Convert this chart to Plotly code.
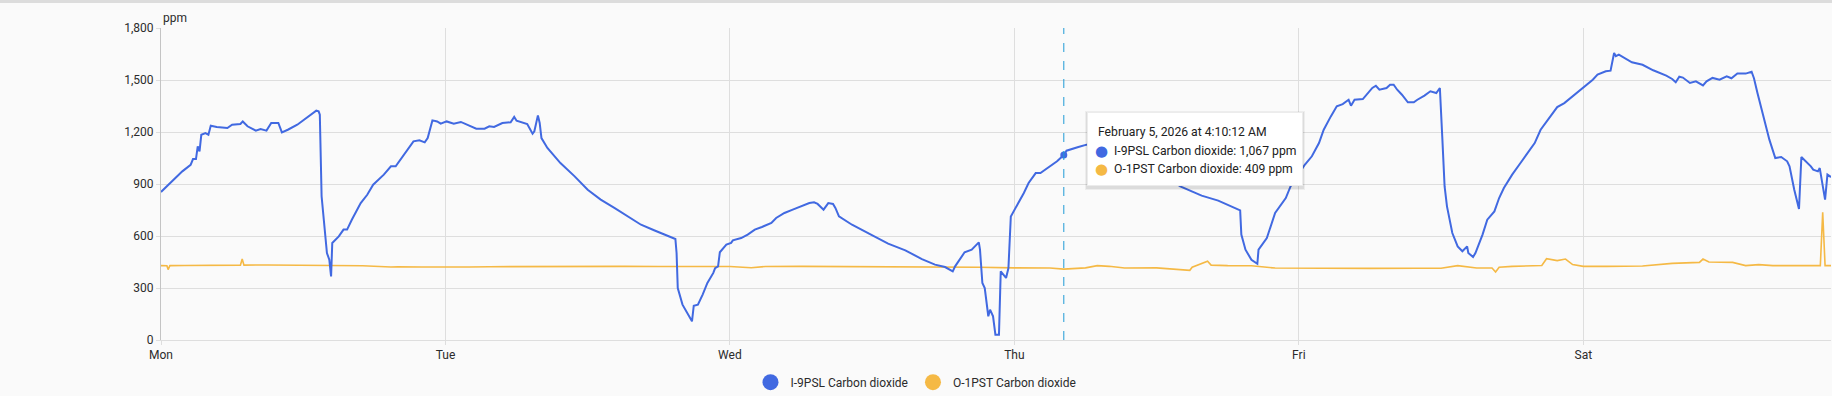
import datetime as dt
import plotly.graph_objects as go

# ---------------- data ----------------
start = dt.datetime(2026, 2, 2, 0, 0, 0)  # Monday

indoor_hours = [
    0, 0.8, 1.8, 2.5, 2.7, 2.95, 3.1, 3.25, 3.4, 3.75, 4.0, 4.2, 4.7, 5.6, 6.0, 6.7, 6.9, 7.3,
    8.0, 8.4, 8.9, 9.3, 9.9, 10.2, 10.7, 11.5, 12.3, 13.1, 13.3, 13.4, 13.55, 13.75, 14.0, 14.2,
    14.35, 14.45, 14.6, 15.0, 15.4, 15.7, 16.1, 16.85, 17.4, 17.9, 18.8, 19.4, 19.8, 20.5, 21.3,
    21.8, 22.25, 22.5, 22.9, 23.3, 23.6, 24.1, 24.7, 25.3, 25.9, 26.6, 27.3, 27.7, 28.1, 28.8,
    29.5, 29.8, 30.0, 30.4, 30.9, 31.35, 31.5, 31.8, 31.95, 32.1, 32.6, 33.7, 34.9, 36.0, 37.1,
    38.25, 39.4, 40.5, 41.6, 42.75, 43.4, 43.5, 43.6, 44.0, 44.45, 44.8, 44.95, 45.3, 45.7, 46.1,
    46.6, 46.75, 47.0, 47.15, 47.7, 48.1, 48.25, 48.95, 49.5, 50.1, 50.7, 51.5, 51.9, 52.6, 53.3,
    54.0, 54.7, 55.1, 55.4, 55.9, 56.3, 56.7, 56.9, 57.2, 58.3, 59.9, 61.35, 62.8, 64.2, 65.3,
    66.15, 66.8, 67.0, 67.8, 68.4, 69.0, 69.1, 69.3, 69.5, 69.8, 69.95, 70.2, 70.4, 70.7, 70.85,
    71.3, 71.5, 71.7, 72.2, 72.8, 73.2, 73.8, 74.2, 75.2, 75.6, 76.17, 76.4, 77.4, 78.1, 79.5,
    80.5, 82.0, 84.0, 86.0, 87.8, 89.2, 91.05, 91.15, 91.5, 92.0, 92.5, 92.6, 93.3, 94.0, 94.9,
    95.3, 96.5, 97.1, 97.7, 98.1, 98.7, 99.2, 99.7, 100.2, 100.4, 100.7, 101.4, 102.2, 102.5,
    102.8, 103.4, 103.7, 104.0, 104.3, 104.7, 105.2, 105.7, 106.0, 106.6, 107.1, 107.6, 107.9,
    108.1, 108.3, 108.5, 108.95, 109.4, 109.8, 110.2, 110.3, 110.7, 110.9, 111.5, 111.9, 112.5,
    112.9, 113.3, 114.0, 114.7, 115.3, 115.9, 116.4, 117.1, 117.8, 118.4, 119.1, 120.1, 120.8,
    121.2, 121.9, 122.3, 122.6, 122.75, 123.0, 124.1, 125.0, 125.9, 127.0, 127.5, 127.8, 128.1,
    128.4, 129.0, 129.5, 130.1, 130.4, 130.9, 131.5, 132.1, 132.5, 133.0, 133.7, 134.2, 134.4,
    134.7, 135.1, 135.7, 136.2, 136.7, 137.2, 137.4, 137.8, 138.2, 138.4, 138.8, 139.2, 139.4,
    139.8, 139.95, 140.1, 140.4, 140.6, 140.9,
]
indoor_ppm = [
    854, 906, 973, 1011, 1044, 1044, 1117, 1088, 1184, 1194, 1184, 1236, 1229, 1223, 1242, 1246, 1261, 1233,
    1208, 1217, 1208, 1252, 1252, 1198, 1213, 1242, 1285, 1323, 1319, 1300, 829, 675, 502, 463,
    367, 560, 569, 598, 637, 637, 694, 790, 838, 896, 954, 1002, 1002, 1069, 1146,
    1152, 1140, 1165, 1267, 1261, 1248, 1261, 1248, 1258, 1242, 1219, 1219, 1233, 1229, 1252,
    1256, 1287, 1265, 1258, 1246, 1190, 1204, 1296, 1252, 1165, 1108, 1021, 944, 867, 810,
    762, 710, 665, 633, 602, 583, 502, 300, 204, 146, 108, 198, 204, 262, 329,
    387, 415, 425, 506, 550, 560, 575, 588, 608, 637, 652, 675, 704, 733, 752,
    771, 790, 794, 785, 752, 790, 785, 762, 713, 665, 608, 556, 517, 467, 435,
    421, 396, 425, 506, 521, 563, 521, 329, 300, 137, 175, 137, 31, 31, 396,
    358, 415, 713, 771, 848, 906, 963, 963, 1011, 1031, 1067, 1092, 1113, 1127, 1140,
    1135, 1080, 985, 886, 833, 804, 748, 608, 521, 463, 440, 521, 588, 733, 819,
    886, 1011, 1060, 1136, 1213, 1290, 1348, 1361, 1386, 1352, 1386, 1390, 1454, 1467,
    1444, 1454, 1473, 1473, 1444, 1415, 1371, 1371, 1386, 1410, 1435, 1425, 1454,
    1175, 886, 771, 617, 540, 512, 540, 502, 479, 502, 608, 694, 742,
    819, 877, 954, 1021, 1079, 1136, 1213, 1281, 1344, 1367, 1406, 1463, 1502,
    1531, 1550, 1554, 1656, 1637, 1646, 1602, 1588, 1556, 1525, 1506, 1487, 1519,
    1514, 1483, 1492, 1469, 1492, 1512, 1502, 1521, 1510, 1537, 1537, 1548, 1510,
    1423, 1310, 1156, 1050, 1056, 1031, 1002, 867, 756, 1056, 1031, 1002, 983,
    973, 992, 925, 810, 954, 940,
]

outdoor_hours = [
    0, 0.5, 0.6, 0.75, 2, 4, 6.7, 6.85, 7.0, 9, 11, 13, 15, 17, 19.4, 20, 22, 24, 26, 27.7,
    30, 33, 36, 39, 42, 45, 48, 49.8, 51, 54, 57, 60, 63, 66, 69, 72, 75, 76.17, 78, 79,
    80, 81.3, 84, 86.8, 87, 88.3, 88.6, 90, 92, 94, 98, 102, 106, 108, 109.4, 111, 112.3,
    112.6, 112.9, 114, 116.5, 116.9, 117.8, 118.5, 119.1, 120, 122, 125, 127.5, 129.8, 130.1,
    130.6, 132.6, 133.7, 134.8, 136, 138, 140.0, 140.2, 140.4, 140.9,
]
outdoor_ppm = [
    429, 428, 406, 429, 430, 431, 432, 467, 432, 433, 432, 431, 430, 428, 421, 423, 421, 419, 421, 423,
    424, 425, 424, 425, 424, 423, 424, 417, 424, 425, 424, 425, 424, 423, 420, 416, 415, 409, 416, 429,
    425, 415, 416, 402, 420, 454, 432, 429, 428, 415, 413, 413, 414, 414, 429, 415, 415,
    392, 420, 425, 430, 469, 458, 467, 435, 425, 425, 427, 442, 448, 467,
    450, 448, 429, 435, 429, 429, 429, 737, 429, 429,
]

hover_time_h = [76.17]
hover_label = ["February 5, 2026 at 4:10:12 AM"]
hover_indoor = [1067]
hover_outdoor = [409]

day_labels = ["Mon", "Tue", "Wed", "Thu", "Fri", "Sat"]
y_ticks = [0, 300, 600, 900, 1200, 1500, 1800]

series_names = ["I-9PSL Carbon dioxide", "O-1PST Carbon dioxide"]
unit = "ppm"

# ---------------- styling ----------------
BLUE = "#4169e1"
ORANGE = "#f5b945"
GRID = "#dedede"
TEXT = "#2b2b2b"
BG = "#fafafa"
FONT = "Roboto"
PLOT_TOP, PLOT_H = 28, 312  # px


def to_time(hours):
    return [start + dt.timedelta(hours=h) for h in hours]


def py(px):
    """pixel row (from top of figure) -> paper y"""
    return (PLOT_TOP + PLOT_H - px) / PLOT_H


x_in = to_time(indoor_hours)
x_out = to_time(outdoor_hours)
x_hover = to_time(hover_time_h)
day_ticks = [start + dt.timedelta(days=i) for i in range(len(day_labels))]

fig = go.Figure()

fig.add_trace(go.Scatter(
    x=x_out, y=outdoor_ppm, mode="lines", name=series_names[1],
    line=dict(color=ORANGE, width=1.6), showlegend=False, hoverinfo="skip",
))
fig.add_trace(go.Scatter(
    x=x_in, y=indoor_ppm, mode="lines", name=series_names[0],
    line=dict(color=BLUE, width=2), showlegend=False, hoverinfo="skip",
))
# hovered point marker
fig.add_trace(go.Scatter(
    x=x_hover, y=hover_indoor, mode="markers",
    marker=dict(color=BLUE, size=7), showlegend=False, hoverinfo="skip",
))
# legend entries (circle markers)
for name, col in zip(series_names, [BLUE, ORANGE]):
    fig.add_trace(go.Scatter(
        x=[None], y=[None], mode="markers", name=name,
        marker=dict(color=col, size=16, symbol="circle"), showlegend=True,
    ))

# dashed hover line
fig.add_shape(
    type="line", xref="x", yref="paper",
    x0=x_hover[0], x1=x_hover[0], y0=0, y1=1,
    line=dict(color="#1e9ad6", width=1, dash="dash"), layer="above",
)

# top grey border of the card
fig.add_shape(
    type="rect", xref="paper", yref="paper",
    x0=-0.2, x1=1.01, y0=1.08, y1=1.1, line=dict(width=0),
    fillcolor="#dcdcdc", layer="below",
)

# ---- tooltip (box, shadow, lines) ----
BOX_DX, BOX_TOP, BOX_W, BOX_H = 23, 112, 216, 74
for dx, dy, w, h, col in [(BOX_DX - 2, BOX_TOP - 1, BOX_W + 4, BOX_H + 5, "rgba(0,0,0,0.05)"),
                          (BOX_DX - 1, BOX_TOP, BOX_W + 2, BOX_H + 3, "rgba(0,0,0,0.07)")]:
    fig.add_annotation(
        x=x_hover[0], xref="x", xanchor="left", xshift=dx,
        y=py(dy), yref="paper", yanchor="top",
        text=" ", showarrow=False, width=w, height=h,
        bgcolor=col, borderwidth=0, borderpad=0,
    )
fig.add_annotation(
    x=x_hover[0], xref="x", xanchor="left", xshift=BOX_DX,
    y=py(BOX_TOP), yref="paper", yanchor="top",
    text=" ", showarrow=False, width=BOX_W - 2, height=BOX_H - 2,
    bgcolor="#ffffff", bordercolor="#ececec", borderwidth=1, borderpad=0,
)
TIP_FONT = dict(family=FONT, size=12.2, color="#212121")
fig.add_annotation(
    x=x_hover[0], xref="x", xanchor="left", xshift=BOX_DX + 10,
    y=py(132), yref="paper", yanchor="middle",
    text=hover_label[0], showarrow=False, font=TIP_FONT, borderpad=0,
)
for row_y, col, name, val in [(150.5, BLUE, series_names[0], hover_indoor[0]),
                              (169, ORANGE, series_names[1], hover_outdoor[0])]:
    fig.add_annotation(
        x=x_hover[0], xref="x", xanchor="center", xshift=BOX_DX + 15,
        y=py(row_y), yref="paper", yanchor="middle",
        text="●", showarrow=False, borderpad=0,
        font=dict(family="DejaVu Sans", size=15, color=col),
    )
    fig.add_annotation(
        x=x_hover[0], xref="x", xanchor="left", xshift=BOX_DX + 26,
        y=py(row_y), yref="paper", yanchor="middle",
        text=f"{name}: {val:,} {unit}", showarrow=False, font=TIP_FONT, borderpad=0,
    )

# unit label
fig.add_annotation(
    x=0, xref="paper", xanchor="left", y=1, yref="paper", yanchor="bottom",
    yshift=1, text=unit, showarrow=False,
    font=dict(family=FONT, size=12, color=TEXT),
)

fig.update_layout(
    width=1832, height=396,
    margin=dict(l=161, r=1, t=PLOT_TOP, b=396 - PLOT_TOP - PLOT_H),
    paper_bgcolor=BG, plot_bgcolor=BG,
    font=dict(family=FONT, size=12, color=TEXT),
    legend=dict(
        orientation="h", xref="container", x=0.5, xanchor="center",
        yref="container", y=0.035, yanchor="middle",
        font=dict(family=FONT, size=12, color=TEXT),
        itemsizing="trace", bgcolor="rgba(0,0,0,0)",
    ),
    xaxis=dict(
        type="date", range=[start, x_in[-1]],
        tickvals=day_ticks, ticktext=day_labels,
        showgrid=True, gridcolor=GRID, gridwidth=1,
        showline=True, linecolor=GRID, zeroline=False,
        ticks="outside", ticklen=4, tickcolor=GRID,
        tickfont=dict(family=FONT, size=12, color=TEXT),
        fixedrange=True,
    ),
    yaxis=dict(
        range=[0, 1800], tickvals=y_ticks, tickformat=",",
        showgrid=True, gridcolor=GRID, gridwidth=1,
        showline=True, linecolor="#c4c4c4", zeroline=False,
        ticks="outside", ticklen=4, tickcolor=GRID,
        tickfont=dict(family=FONT, size=12, color=TEXT),
        fixedrange=True,
    ),
)

fig.write_html(
    "out.html",
    config={"displayModeBar": False},
    post_script="document.body.style.margin='0';document.body.style.background='#fafafa';"
                "document.body.style.overflow='hidden';",
)
